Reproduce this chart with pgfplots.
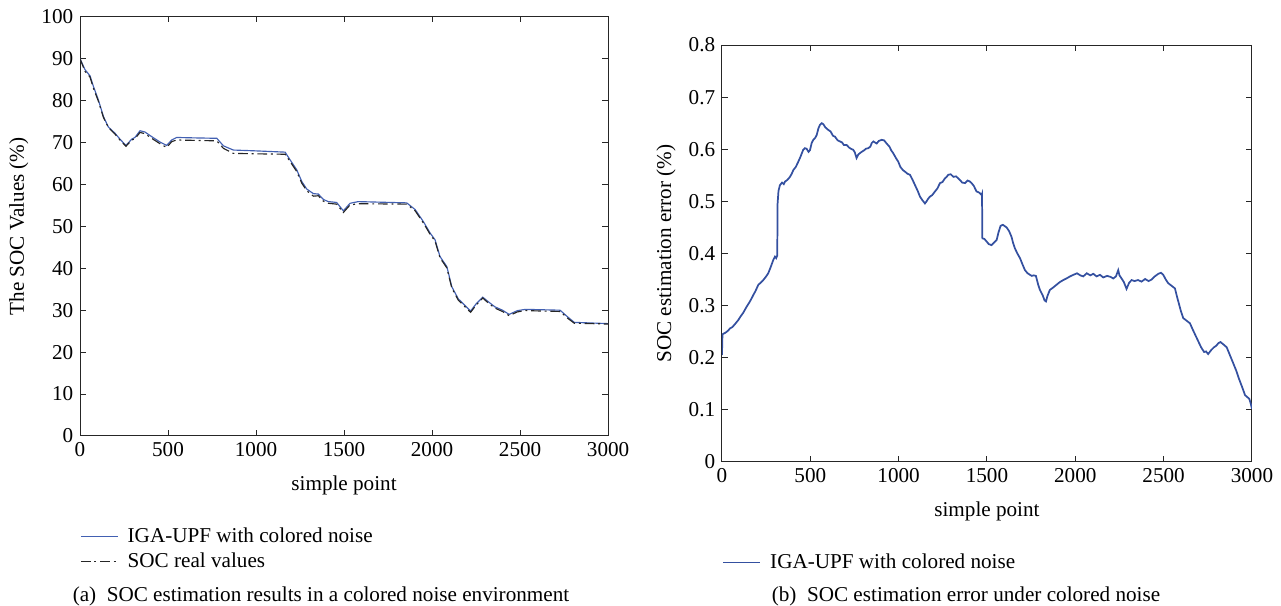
\documentclass[border=0pt]{standalone}
\usepackage{fontspec}
\setmainfont{Liberation Serif}
\usepackage{pgfplots}
\pgfplotsset{compat=1.18}

\definecolor{estblue}{RGB}{66,96,178}
\definecolor{errblue}{RGB}{52,80,160}

\pgfplotsset{
  socax/.style={
    scale only axis,
    xmin=0, xmax=3000,
    xtick={0,500,...,3000},
    tick align=inside,
    major tick length=3pt,
    axis line style={black!85, line width=0.5pt},
    every tick/.style={black!85, line width=0.5pt},
    /pgf/number format/assume math mode=true,
    /pgf/number format/1000 sep={},
    tick label style={font=\fontsize{11}{13}\selectfont},
    label style={font=\fontsize{11}{13}\selectfont},
    xlabel={simple point},
    xlabel style={yshift=-3pt},
    legend style={draw=none, fill=none, anchor=north west, inner sep=0pt,
      legend cell align=left, font=\fontsize{11}{13}\selectfont,
      row sep=0pt},
    legend image code/.code={\draw[##1] (0pt,0pt) -- (19pt,0pt); \path (22pt,0pt);},
  }
}

\begin{document}
\begin{tikzpicture}
\useasboundingbox (-41.6pt,-88.4pt) rectangle (624.5pt,226.7pt);

% (a) SOC values
\begin{axis}[
  socax,
  at={(0pt,0pt)}, anchor=south west,
  width=274.6pt, height=218pt,
  ymin=0, ymax=100,
  ytick={0,10,...,100},
  ylabel={The SOC Values (\%)},
  legend style={at={(0,-0.208)}},
]
\addplot[estblue, line width=0.6pt] coordinates {
  (0,90.0) (28,87.4) (57,85.9) (76,83.4) (104,80.2) (133,76.2) (161,73.7)
  (199,72.2) (227,70.8) (261,69.3) (294,70.8) (312,71.2) (341,72.8) (369,72.5)
  (407,71.4) (455,70.1) (492,69.3) (521,70.6) (549,71.2) (650,71.1) (777,71.0)
  (815,69.2) (871,68.2) (1000,68.0) (1165,67.7) (1193,65.9) (1231,63.5)
  (1260,60.7) (1288,58.9) (1326,57.8) (1354,57.7) (1383,56.4) (1411,55.9)
  (1458,55.7) (1496,53.7) (1534,55.5) (1581,55.9) (1856,55.6) (1904,54.0)
  (1951,51.1) (1989,48.4) (2017,46.8) (2045,42.8) (2084,40.4) (2112,35.6)
  (2149,32.7) (2190,31.0) (2219,29.8) (2250,31.5) (2288,33.1) (2320,32.0)
  (2357,30.8) (2400,30.0) (2438,29.0) (2485,29.9) (2531,30.2) (2727,30.0)
  (2773,28.3) (2808,27.1) (3000,26.8)
};
\addlegendentry{IGA-UPF with colored noise}
\addplot[black!85, line width=0.6pt, dash pattern=on 5pt off 2pt on 1pt off 2pt] coordinates {
  (0,90.0) (28,87.0) (57,85.6) (76,83.0) (104,79.9) (133,76.0) (161,73.6)
  (199,72.0) (227,70.6) (261,69.1) (294,70.6) (312,70.9) (341,72.4) (369,72.1)
  (407,71.0) (455,69.7) (492,68.8) (521,70.2) (549,70.6) (650,70.5) (777,70.4)
  (815,68.6) (871,67.4) (1000,67.3) (1165,67.2) (1193,65.5) (1231,63.1)
  (1260,60.3) (1288,58.5) (1326,57.2) (1354,57.3) (1383,56.0) (1411,55.5)
  (1458,55.3) (1496,53.3) (1534,55.1) (1581,55.4) (1856,55.3) (1904,53.7)
  (1951,50.8) (1989,48.1) (2017,46.5) (2045,42.5) (2084,40.1) (2112,35.3)
  (2149,32.4) (2190,30.7) (2219,29.5) (2250,31.2) (2288,32.9) (2320,31.7)
  (2357,30.5) (2400,29.7) (2438,28.7) (2485,29.6) (2531,29.9) (2727,29.7)
  (2773,28.0) (2808,26.9) (3000,26.7)
};
\addlegendentry{SOC real values}
\end{axis}

% (b) SOC error
\begin{axis}[
  socax,
  at={(333.8pt,-13.5pt)}, anchor=south west,
  width=275.6pt, height=216.8pt,
  ymin=0, ymax=0.8,
  ytick={0,0.1,...,0.8},
  yticklabel style={/pgf/number format/fixed, /pgf/number format/precision=1},
  ylabel={SOC estimation error (\%)},
  legend style={at={(0,-0.21)}},
]
\addplot[errblue, line width=0.9pt] coordinates {
  (0,0.205) (3,0.245) (20,0.248) (35,0.252) (45,0.256) (60,0.259) (75,0.265)
  (92,0.272) (105,0.279) (120,0.286) (140,0.298) (155,0.306) (165,0.312)
  (177,0.320) (190,0.328) (206,0.340) (220,0.344) (234,0.349) (248,0.355)
  (262,0.362) (275,0.373) (291,0.388) (300,0.394) (307,0.391) (313,0.396)
  (315,0.496) (320,0.520) (328,0.531) (340,0.536) (350,0.533) (357,0.538)
  (370,0.541) (385,0.547) (395,0.553) (404,0.560) (418,0.566) (432,0.576)
  (445,0.586) (460,0.599) (470,0.602) (479,0.601) (490,0.595) (498,0.598)
  (508,0.612) (517,0.618) (528,0.622) (536,0.627) (546,0.640) (555,0.647)
  (565,0.650) (574,0.648) (585,0.642) (602,0.637) (615,0.634) (628,0.626)
  (640,0.624) (655,0.617) (668,0.615) (680,0.613) (690,0.608) (706,0.608)
  (720,0.603) (735,0.600) (743,0.599) (752,0.594) (762,0.583) (772,0.590)
  (783,0.593) (791,0.595) (805,0.598) (815,0.601) (828,0.602) (840,0.605)
  (848,0.612) (857,0.615) (866,0.613) (876,0.611) (888,0.616) (904,0.618)
  (918,0.617) (932,0.611) (948,0.605) (958,0.598) (970,0.592) (985,0.583)
  (998,0.576) (1010,0.566) (1024,0.560) (1036,0.557) (1050,0.553) (1064,0.551)
  (1078,0.542) (1093,0.531) (1108,0.520) (1121,0.509) (1135,0.502) (1149,0.496)
  (1158,0.500) (1167,0.505) (1177,0.509) (1190,0.512) (1206,0.519) (1220,0.525)
  (1234,0.535) (1248,0.537) (1262,0.544) (1272,0.547) (1281,0.551) (1295,0.552)
  (1310,0.547) (1325,0.548) (1347,0.541) (1360,0.536) (1376,0.535) (1390,0.540)
  (1404,0.538) (1413,0.535) (1425,0.530) (1441,0.519) (1455,0.517) (1470,0.512)
  (1472,0.514) (1474,0.429) (1485,0.428) (1498,0.423) (1510,0.418) (1526,0.416)
  (1540,0.421) (1555,0.426) (1565,0.440) (1577,0.453) (1590,0.455) (1611,0.450)
  (1625,0.443) (1639,0.432) (1648,0.420) (1658,0.410) (1672,0.400) (1687,0.391)
  (1700,0.380) (1715,0.368) (1730,0.362) (1753,0.357) (1765,0.358) (1777,0.357)
  (1790,0.340) (1800,0.330) (1815,0.320) (1826,0.310) (1834,0.308) (1842,0.318)
  (1850,0.325) (1856,0.330) (1872,0.334) (1894,0.340) (1912,0.345) (1932,0.349)
  (1950,0.352) (1970,0.356) (1989,0.359) (2010,0.362) (2028,0.358) (2045,0.356)
  (2065,0.362) (2085,0.358) (2102,0.361) (2120,0.356) (2140,0.359) (2158,0.354)
  (2180,0.357) (2200,0.355) (2215,0.352) (2230,0.356) (2243,0.368) (2250,0.358)
  (2262,0.352) (2275,0.345) (2290,0.332) (2305,0.344) (2319,0.349) (2335,0.347)
  (2355,0.349) (2375,0.346) (2395,0.351) (2415,0.347) (2432,0.350) (2450,0.356)
  (2470,0.361) (2485,0.363) (2498,0.359) (2512,0.350) (2526,0.343) (2545,0.338)
  (2564,0.333) (2575,0.318) (2583,0.308) (2598,0.289) (2611,0.276) (2630,0.271)
  (2649,0.266) (2662,0.256) (2680,0.243) (2694,0.233) (2712,0.220) (2729,0.211)
  (2740,0.212) (2752,0.207) (2770,0.215) (2785,0.220) (2798,0.223) (2810,0.228)
  (2822,0.230) (2840,0.225) (2857,0.220) (2875,0.205) (2892,0.191) (2910,0.176)
  (2926,0.160) (2944,0.144) (2961,0.128) (2975,0.124) (2985,0.121) (2993,0.112)
  (3000,0.102)
};
\addlegendentry{IGA-UPF with colored noise}
\end{axis}

\node[anchor=west, font=\fontsize{11}{13}\selectfont] at (-7.3pt,-83.5pt)
  {(a)\enspace SOC estimation results in a colored noise environment};
\node[font=\fontsize{11}{13}\selectfont] at (460.7pt,-83.5pt)
  {(b)\enspace SOC estimation error under colored noise};
\end{tikzpicture}
\end{document}
